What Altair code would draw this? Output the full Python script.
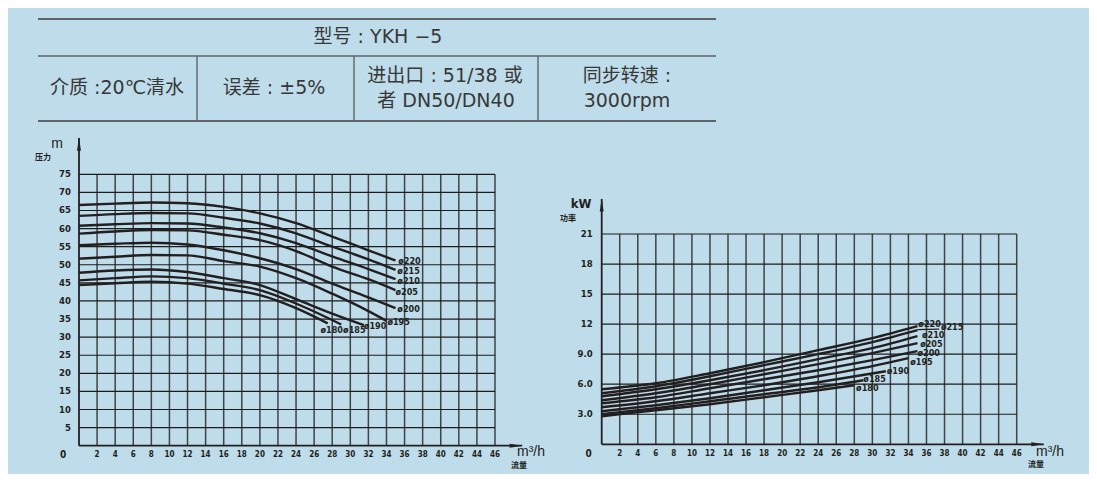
import altair as alt
import pandas as pd

# ---------------- data ----------------
diameters = ["ø180", "ø185", "ø190", "ø195", "ø200", "ø205", "ø210", "ø215", "ø220"]

# Head (m) vs flow (m3/h)
head_q = {
    "ø180": [0, 4, 8, 12, 16, 20, 24, 27.5],
    "ø185": [0, 4, 8, 12, 16, 20, 24, 29],
    "ø190": [0, 4, 8, 12, 16, 20, 24, 28, 31.5],
    "ø195": [0, 4, 8, 12, 16, 20, 24, 28, 32, 34],
    "ø200": [0, 4, 8, 12, 16, 20, 24, 28, 32, 35],
    "ø205": [0, 4, 8, 12, 16, 20, 24, 28, 32, 35],
    "ø210": [0, 4, 8, 12, 16, 20, 24, 28, 32, 35],
    "ø215": [0, 4, 8, 12, 16, 20, 24, 28, 32, 35],
    "ø220": [0, 4, 8, 12, 16, 20, 24, 28, 32, 35],
}
head_h = {
    "ø180": [44.4, 44.9, 45.3, 44.8, 43.3, 41.6, 38.0, 33.8],
    "ø185": [45.7, 46.3, 46.8, 46.3, 44.8, 43.0, 39.3, 33.5],
    "ø190": [47.8, 48.4, 48.7, 48.0, 46.3, 44.4, 40.5, 36.5, 33.3],
    "ø195": [51.7, 52.2, 52.7, 52.6, 51.0, 49.5, 46.3, 42.0, 37.2, 34.5],
    "ø200": [55.4, 55.8, 56.1, 55.6, 54.0, 51.8, 48.8, 44.8, 41.0, 38.0],
    "ø205": [58.6, 59.2, 59.6, 59.5, 58.3, 56.8, 53.8, 49.5, 46.0, 43.0],
    "ø210": [60.8, 61.2, 61.5, 61.4, 60.3, 58.7, 56.0, 52.3, 48.8, 46.0],
    "ø215": [63.5, 64.0, 64.3, 64.2, 63.0, 61.4, 58.7, 55.0, 51.5, 48.6],
    "ø220": [66.5, 66.9, 67.2, 67.0, 66.0, 64.2, 61.5, 57.8, 54.0, 51.2],
}
head_label_q = [26.7, 29.2, 31.5, 34.1, 35.2, 35.0, 35.2, 35.2, 35.3]
head_label_h = [32.0, 32.0, 33.1, 34.3, 37.7, 42.5, 45.6, 48.3, 51.1]

# Power (kW) vs flow (m3/h)
pow_q = {
    "ø180": [0, 6, 12, 18, 24, 28],
    "ø185": [0, 6, 12, 18, 24, 29],
    "ø190": [0, 6, 12, 18, 24, 31.5],
    "ø195": [0, 6, 12, 18, 24, 30, 34],
    "ø200": [0, 6, 12, 18, 24, 30, 35],
    "ø205": [0, 6, 12, 18, 24, 30, 35],
    "ø210": [0, 6, 12, 18, 24, 30, 35],
    "ø215": [0, 6, 12, 18, 24, 30, 35],
    "ø220": [0, 6, 12, 18, 24, 30, 35],
}
pow_p = {
    "ø180": [2.8, 3.4, 4.0, 4.7, 5.4, 5.9],
    "ø185": [3.0, 3.6, 4.3, 5.0, 5.7, 6.4],
    "ø190": [3.3, 3.9, 4.6, 5.4, 6.2, 7.3],
    "ø195": [3.7, 4.3, 5.1, 5.9, 6.8, 7.8, 8.6],
    "ø200": [4.1, 4.7, 5.6, 6.5, 7.4, 8.4, 9.3],
    "ø205": [4.4, 5.1, 6.0, 7.0, 8.0, 9.1, 10.1],
    "ø210": [4.8, 5.5, 6.4, 7.4, 8.5, 9.6, 10.8],
    "ø215": [5.1, 5.8, 6.8, 7.9, 9.0, 10.2, 11.4],
    "ø220": [5.5, 6.1, 7.1, 8.2, 9.4, 10.6, 11.8],
}
pow_label_q = [28.2, 29.0, 31.6, 34.2, 35.0, 35.3, 35.5, 37.6, 35.1]
pow_label_p = [5.6, 6.5, 7.3, 8.2, 9.1, 10.0, 10.9, 11.7, 12.0]
pow_leader_q = [35.0, 37.4]
pow_leader_p = [11.45, 11.5]

x_ticks = [2, 4, 6, 8, 10, 12, 14, 16, 18, 20, 22, 24, 26, 28, 30, 32, 34, 36, 38, 40, 42, 44, 46]
head_ticks = [5, 10, 15, 20, 25, 30, 35, 40, 45, 50, 55, 60, 65, 70, 75]
pow_ticks = [3, 6, 9, 12, 15, 18, 21]
pow_tick_labels = ["3.0", "6.0", "9.0", "12", "15", "18", "21"]

header_title = "型号 : YKH −5"
header_cells = ["介质 :20℃清水", "误差 : ±5%", "进出口 : 51/38 或", "者 DN50/DN40", "同步转速 :", "3000rpm"]

# ---------------- style ----------------
BG = "#bedcea"
INK = "#231f20"
GRID_V = "#3f4446"
GRID_H = "#1c1c1c"
LBL = "DejaVu Sans Condensed, Liberation Sans Narrow, sans-serif"
CJK = "Noto Sans CJK SC"
HDR_FONT = "DejaVu Sans, Noto Sans CJK SC, sans-serif"

L_X = dict(domain=[0, 46], range=[71, 487])
L_Y = dict(domain=[0, 75], range=[437.7, 166.3])
R_X = dict(domain=[0, 46], range=[593.7, 1008.7])
R_Y = dict(domain=[0, 21], range=[436.3, 226])


def ex(f, sc):
    return alt.X(f"{f}:Q", scale=alt.Scale(nice=False, zero=False, **sc), axis=None)


def ey(f, sc):
    return alt.Y(f"{f}:Q", scale=alt.Scale(nice=False, zero=False, **sc), axis=None)


def curves_df(qd, vd):
    rows = []
    for d in diameters:
        for q, v in zip(qd[d], vd[d]):
            rows.append({"d": d, "q": q, "v": v})
    return pd.DataFrame(rows)


def panel(SX, SY, ymax, yticks, ylabels, cq, cv, lq, lv, ydx, zdx, xdy, arrow_top):
    layers = []
    vg = pd.DataFrame({"q": x_ticks, "y0": 0, "y1": ymax})
    layers.append(alt.Chart(vg).mark_rule(color=GRID_V, strokeWidth=1.5).encode(
        x=ex("q", SX), y=ey("y0", SY), y2="y1"))
    hg = pd.DataFrame({"v": yticks, "x0": 0, "x1": 46})
    layers.append(alt.Chart(hg).mark_rule(color=GRID_H, strokeWidth=1.2).encode(
        x=ex("x0", SX), x2="x1", y=ey("v", SY)))
    ax = pd.DataFrame({"x0": [0, 0], "x1": [0, 49], "y0": [0, 0], "y1": [arrow_top, 0]})
    layers.append(alt.Chart(ax).mark_rule(color=INK, strokeWidth=1.8).encode(
        x=ex("x0", SX), x2="x1", y=ey("y0", SY), y2="y1"))
    # arrow heads
    up = pd.DataFrame({"q": [0], "v": [arrow_top]})
    layers.append(alt.Chart(up).mark_point(shape="M0,-1L0.3,1L-0.3,1Z", filled=True, color=INK,
                                           size=170, opacity=1, yOffset=6).encode(
        x=ex("q", SX), y=ey("v", SY)))
    rt = pd.DataFrame({"q": [49], "v": [0]})
    layers.append(alt.Chart(rt).mark_point(shape="M1,0L-1,-0.3L-1,0.3Z", filled=True, color=INK,
                                           size=170, opacity=1, xOffset=-6).encode(
        x=ex("q", SX), y=ey("v", SY)))
    cdf = curves_df(cq, cv)
    layers.append(alt.Chart(cdf).mark_line(color=INK, strokeWidth=2.4, interpolate="monotone").encode(
        x=ex("q", SX), y=ey("v", SY), detail="d:N", order="q:Q"))
    ldf = pd.DataFrame({"d": diameters, "q": lq, "v": lv})
    layers.append(alt.Chart(ldf).mark_text(font=LBL, fontWeight="bold", fontSize=9, color=INK,
                                           align="left", baseline="middle").encode(
        x=ex("q", SX), y=ey("v", SY), text="d:N"))
    ydf = pd.DataFrame({"v": yticks, "t": ylabels, "q": 0})
    layers.append(alt.Chart(ydf).mark_text(font=LBL, fontWeight="bold", fontSize=9.5, color=INK,
                                           align="right", baseline="middle", dx=ydx).encode(
        x=ex("q", SX), y=ey("v", SY), text="t:N"))
    xdf = pd.DataFrame({"q": x_ticks, "t": [str(t) for t in x_ticks], "v": 0})
    layers.append(alt.Chart(xdf).mark_text(font=LBL, fontWeight="bold", fontSize=8, color=INK,
                                           align="center", baseline="middle", dy=xdy).encode(
        x=ex("q", SX), y=ey("v", SY), text="t:N"))
    zdf = pd.DataFrame({"q": [0], "v": [0], "t": ["0"]})
    layers.append(alt.Chart(zdf).mark_text(font=LBL, fontWeight="bold", fontSize=10, color=INK,
                                           align="center", baseline="middle", dx=zdx, dy=xdy).encode(
        x=ex("q", SX), y=ey("v", SY), text="t:N"))
    return layers


left = panel(L_X, L_Y, 75, head_ticks, [str(t) for t in head_ticks], head_q, head_h,
             head_label_q, head_label_h, -8, -16, 9, 85)
right = panel(R_X, R_Y, 21, pow_ticks, pow_tick_labels, pow_q, pow_p,
              pow_label_q, pow_label_p, -9, -13, 10, 24.5)

leader = pd.DataFrame({"q": [pow_leader_q[0]], "q2": [pow_leader_q[1]],
                       "v": [pow_leader_p[0]], "v2": [pow_leader_p[1]]})
right.append(alt.Chart(leader).mark_rule(color=INK, strokeWidth=1.2).encode(
    x=ex("q", R_X), x2="q2", y=ey("v", R_Y), y2="v2"))

# axis titles (pixel layout)
titles = pd.DataFrame({
    "t": ["m", "m³/h", "m³/h"],
    "px": [49, 523, 1042],
    "py": [136, 444, 444],
})
titles_small = pd.DataFrame({
    "t": ["压力", "流量", "功率", "流量"],
    "px": [35, 511, 560, 1028],
    "py": [150, 458, 211, 457],
})
t_big = alt.Chart(titles).mark_text(font="Liberation Sans, Arial, sans-serif", fontSize=14, color=INK,
                                    align="center", baseline="middle").encode(
    x=alt.X("px:Q", scale=None, axis=None), y=alt.Y("py:Q", scale=None, axis=None), text="t:N")
kw = pd.DataFrame({"t": ["kW"], "px": [573], "py": [196]})
t_kw = alt.Chart(kw).mark_text(font=LBL, fontWeight="bold", fontSize=13, color=INK,
                               align="center", baseline="middle").encode(
    x=alt.X("px:Q", scale=None, axis=None), y=alt.Y("py:Q", scale=None, axis=None), text="t:N")
t_small = alt.Chart(titles_small).mark_text(font=CJK, fontWeight="bold", fontSize=8, color=INK,
                                            align="center", baseline="middle").encode(
    x=alt.X("px:Q", scale=None, axis=None), y=alt.Y("py:Q", scale=None, axis=None), text="t:N")

# header table
hdr_lines = pd.DataFrame({
    "x0": [30, 30, 30, 189, 346, 530],
    "x1": [708, 708, 708, 189, 346, 530],
    "y0": [11, 48, 113, 48, 48, 48],
    "y1": [11, 48, 113, 113, 113, 113],
    "w": [2.0, 1.6, 2.0, 1.4, 1.4, 1.4],
})
hdr_rule = alt.Chart(hdr_lines).mark_rule(color="#5e6466").encode(
    x=alt.X("x0:Q", scale=None, axis=None), x2="x1",
    y=alt.Y("y0:Q", scale=None, axis=None), y2="y1",
    strokeWidth=alt.StrokeWidth("w:Q", scale=None, legend=None))
hdr_text = pd.DataFrame({
    "t": [header_title] + header_cells,
    "px": [370, 109, 266, 437, 438, 619, 619],
    "py": [29, 80, 80, 68, 93, 68, 93],
})
hdr = alt.Chart(hdr_text).mark_text(font=HDR_FONT, fontSize=19, color="#383838",
                                    align="center", baseline="middle").encode(
    x=alt.X("px:Q", scale=None, axis=None), y=alt.Y("py:Q", scale=None, axis=None), text="t:N")

chart = alt.layer(*left, *right, t_big, t_kw, t_small, hdr_rule, hdr).resolve_scale(
    x="independent", y="independent"
).properties(
    width=1081, height=466, autosize="none", padding=0, background=BG
).configure_view(strokeWidth=0, fill=BG)

chart.save("out.html", embed_options={"renderer": "svg", "actions": False})
